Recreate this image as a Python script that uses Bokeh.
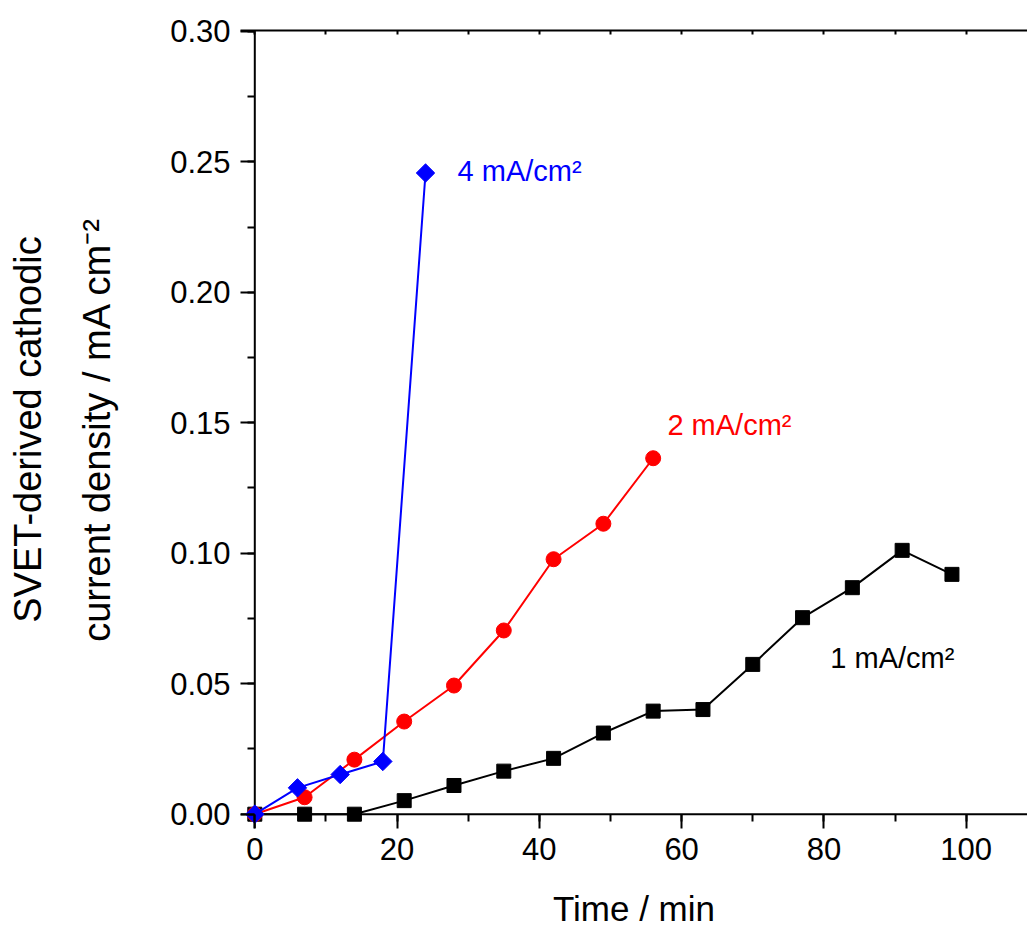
import math

from bokeh.plotting import figure
from bokeh.models import (Label, LinearAxis, SingleIntervalTicker,
                          NumeralTickFormatter, CustomJSTickFormatter,
                          Range1d, Span)
from bokeh.embed import file_html
from bokeh.resources import INLINE

# SVET-derived cathodic current density vs. time for three applied currents
time_1 = [0, 7, 14, 21, 28, 35, 42, 49, 56, 63, 70, 77, 84, 91, 98]
cur_1 = [0.0, 0.0, 0.0, 0.0052, 0.011, 0.0165, 0.0214, 0.0311, 0.0395,
         0.0401, 0.0574, 0.0753, 0.0868, 0.1011, 0.0919]

time_2 = [0, 7, 14, 21, 28, 35, 42, 49, 56]
cur_2 = [0.0, 0.0065, 0.0209, 0.0355, 0.0493, 0.0704, 0.0977, 0.1113, 0.1364]

time_4 = [0, 6, 12, 18, 24]
cur_4 = [0.0, 0.0101, 0.0152, 0.0202, 0.2457]

series_labels = ["1 mA/cm²", "2 mA/cm²", "4 mA/cm²"]
x_ticks_interval = 20
y_ticks_interval = 0.05

FONT = "Liberation Sans"

# the frame reaches a little past the origin so the markers at (0, 0)
# are drawn whole; the axis lines themselves sit at x = 0 and y = 0
p = figure(
    frame_width=787, frame_height=798,
    x_range=Range1d(-2.01, 108.62), y_range=Range1d(-0.00548, 0.3003),
    output_backend="svg", toolbar_location=None,
    min_border_left=240, min_border_right=0,
    min_border_top=30, min_border_bottom=101,
)
p.outline_line_color = None
p.grid.visible = False
p.background_fill_color = "white"
p.border_fill_color = "white"

# bottom axis: ticks run from the frame edge up to y = 0
xax = p.xaxis[0]
xax.ticker = SingleIntervalTicker(interval=x_ticks_interval, num_minor_ticks=2)
xax.axis_line_color = None
xax.major_tick_line_width = 2
xax.minor_tick_line_width = 2
xax.major_tick_in = 14
xax.major_tick_out = 0
xax.minor_tick_in = 14
xax.minor_tick_out = -7
xax.major_label_standoff = 9
xax.major_label_text_font = FONT
xax.major_label_text_font_size = "31px"
xax.major_label_text_color = "black"
xax.axis_label = "Time / min"
xax.axis_label_text_font = FONT
xax.axis_label_text_font_size = "35px"
xax.axis_label_text_font_style = "normal"
xax.axis_label_text_color = "black"
xax.axis_label_standoff = 26

# left axis: ticks run from the frame edge across to x = 0
yax = p.yaxis[0]
yax.ticker = SingleIntervalTicker(interval=y_ticks_interval, num_minor_ticks=2)
yax.formatter = NumeralTickFormatter(format="0.00")
yax.axis_line_color = None
yax.major_tick_line_width = 2
yax.minor_tick_line_width = 2
yax.major_tick_in = 14
yax.major_tick_out = 0
yax.minor_tick_in = 14
yax.minor_tick_out = -7
yax.major_label_standoff = 10
yax.major_label_text_font = FONT
yax.major_label_text_font_size = "31px"
yax.major_label_text_color = "black"
yax.axis_label = "SVET-derived cathodic\ncurrent density / mA cm⁻²"
yax.axis_label_text_font = FONT
yax.axis_label_text_font_size = "38px"
yax.axis_label_text_font_style = "normal"
yax.axis_label_text_color = "black"
yax.axis_label_text_line_height = 1.65
yax.axis_label_standoff = 49

# top frame line with small inward ticks
top = LinearAxis(ticker=SingleIntervalTicker(interval=10, num_minor_ticks=0),
                 formatter=CustomJSTickFormatter(code="return ''"))
top.axis_line_width = 2
top.major_tick_line_width = 2
top.major_tick_in = 4
top.major_tick_out = 0
top.minor_tick_line_color = None
top.major_label_standoff = 0
p.add_layout(top, "above")

# axis lines through the origin
p.add_layout(Span(location=0, dimension="height", line_color="black",
                  line_width=2, level="underlay"))
p.add_layout(Span(location=0, dimension="width", line_color="black",
                  line_width=2, level="underlay"))

# series
p.line(time_1, cur_1, line_color="black", line_width=2)
p.scatter(time_1, cur_1, marker="square", size=14, color="black")

p.line(time_2, cur_2, line_color="#ff0000", line_width=2)
p.scatter(time_2, cur_2, marker="circle", size=15, color="#ff0000")

p.line(time_4, cur_4, line_color="#0000ff", line_width=2)
p.scatter(time_4, cur_4, marker="square", angle=math.pi / 4, size=13,
          color="#0000ff")

# series annotations
for txt, x, y, col in [
    (series_labels[2], 28.5, 0.2464, "#0000ff"),
    (series_labels[1], 58.0, 0.149, "#ff0000"),
    (series_labels[0], 80.9, 0.0597, "black"),
]:
    p.add_layout(Label(x=x, y=y, text=txt, text_color=col,
                       text_font=FONT, text_font_size="29px",
                       text_baseline="alphabetic", text_align="left"))

open("out.html", "w").write(file_html(p, INLINE))
